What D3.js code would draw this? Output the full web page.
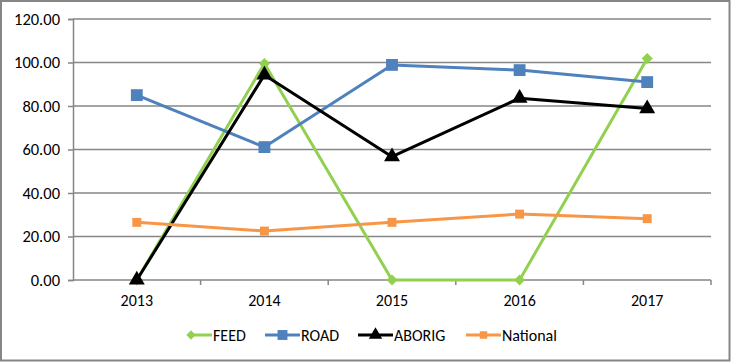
<!DOCTYPE html>
<html>
<head>
<meta charset="utf-8">
<script src="https://cdn.jsdelivr.net/npm/d3@7"></script>
<style>
  body { margin: 0; background: #fff; }
  text { font-family: Carlito, Calibri, sans-serif; fill: #000; }
</style>
</head>
<body>
<div id="chart"></div>
<script>
var svgWidth = 731;
var svgHeight = 362;

var margin = { top: 19, right: 20, bottom: 82, left: 73 };
var width = svgWidth - margin.left - margin.right;
var height = svgHeight - margin.top - margin.bottom;

// data
var years = ["2013", "2014", "2015", "2016", "2017"];
var feed = [0, 99.5, 0, 0, 101.8];
var road = [85.0, 61.1, 98.9, 96.5, 91.0];
var aborig = [0, 94.3, 56.7, 83.6, 78.8];
var national = [26.5, 22.5, 26.5, 30.3, 28.2];
var yTicks = [0, 20, 40, 60, 80, 100, 120];

var diamond = {
  draw: function(ctx, size) {
    var r = Math.sqrt(size) / 2 * 1.2;
    ctx.moveTo(0, -r); ctx.lineTo(r, 0); ctx.lineTo(0, r); ctx.lineTo(-r, 0); ctx.closePath();
  }
};

var series = [
  { name: "FEED", values: feed, color: "#92D050", shape: diamond, size: 85 },
  { name: "ROAD", values: road, color: "#4F81BD", shape: d3.symbolSquare, size: 140 },
  { name: "ABORIG", values: aborig, color: "#000000", shape: d3.symbolTriangle, size: 110 },
  { name: "National", values: national, color: "#F79646", shape: d3.symbolSquare, size: 80 }
];

var svg = d3.select("#chart")
  .append("svg")
  .attr("width", svgWidth)
  .attr("height", svgHeight);

// outer frame
svg.append("rect")
  .attr("x", 1).attr("y", 1)
  .attr("width", svgWidth - 2.5).attr("height", svgHeight - 2.5)
  .attr("fill", "#fff")
  .attr("stroke", "#868686")
  .attr("stroke-width", 2);

var chartGroup = svg.append("g")
  .attr("transform", `translate(${margin.left}, ${margin.top})`);

var xBand = d3.scaleBand()
  .domain(years)
  .range([0, width]);

var yScale = d3.scaleLinear()
  .domain([0, 120])
  .range([height, 0]);

// gridlines
chartGroup.append("g")
  .selectAll("line")
  .data(yTicks.slice(1))
  .enter()
  .append("line")
  .attr("x1", 0).attr("x2", width)
  .attr("y1", d => yScale(d))
  .attr("y2", d => yScale(d))
  .attr("stroke", "#868686")
  .attr("stroke-width", 1.5);

// y axis
var leftAxis = d3.axisLeft(yScale)
  .tickValues(yTicks)
  .tickFormat(d3.format(".2f"))
  .tickSize(5)
  .tickPadding(8);

var yAxis = chartGroup.append("g").call(leftAxis);
yAxis.select(".domain").attr("stroke", "#868686").attr("stroke-width", 1.5);
yAxis.selectAll(".tick line").attr("stroke", "#868686").attr("stroke-width", 1.5);
yAxis.selectAll("text").style("font-size", "16.5px").attr("fill", "#000")
  .style("font-family", "Carlito, Calibri, sans-serif");

// x axis: ticks between categories
var bottomAxis = d3.axisBottom(xBand).tickSize(0).tickPadding(15);
var xAxis = chartGroup.append("g")
  .attr("transform", `translate(0, ${height})`)
  .call(bottomAxis);
xAxis.select(".domain").remove();
xAxis.selectAll("text").style("font-size", "16px").attr("fill", "#000")
  .attr("dy", "0.68em")
  .style("font-family", "Carlito, Calibri, sans-serif");

chartGroup.append("line")
  .attr("x1", 0).attr("x2", width)
  .attr("y1", height).attr("y2", height)
  .attr("stroke", "#868686").attr("stroke-width", 1.5);

chartGroup.append("g")
  .selectAll("line")
  .data(years.slice(1).concat(["end"]))
  .enter()
  .append("line")
  .attr("x1", (d, i) => xBand.step() * (i + 1))
  .attr("x2", (d, i) => xBand.step() * (i + 1))
  .attr("y1", height).attr("y2", height + 5)
  .attr("stroke", "#868686").attr("stroke-width", 1.5);

var xPos = i => xBand(years[i]) + xBand.bandwidth() / 2;

var line = d3.line()
  .x((d, i) => xPos(i))
  .y(d => yScale(d));

series.forEach(function(s) {
  var g = chartGroup.append("g");
  g.append("path")
    .attr("d", line(s.values))
    .attr("fill", "none")
    .attr("stroke", s.color)
    .attr("stroke-width", 3)
    .attr("stroke-linejoin", "round");
  g.selectAll("path.marker")
    .data(s.values)
    .enter()
    .append("path")
    .classed("marker", true)
    .attr("d", d3.symbol().type(s.shape).size(s.size))
    .attr("transform", (d, i) => `translate(${xPos(i)}, ${yScale(d)})`)
    .attr("fill", s.color);
});

// legend
var legendX = [190, 265, 358, 466];
var legendLen = [22, 35, 35, 35];
var markerAt = [1, 17.5, 17.5, 17.5];
var legend = svg.append("g").attr("transform", "translate(0, 335)");
series.forEach(function(s, i) {
  var lg = legend.append("g").attr("transform", `translate(${legendX[i]}, 0)`);
  var len = legendLen[i];
  lg.append("line")
    .attr("x1", 0).attr("x2", len)
    .attr("y1", 0).attr("y2", 0)
    .attr("stroke", s.color).attr("stroke-width", 3);
  lg.append("path")
    .attr("d", d3.symbol().type(s.shape).size(s.size * 0.7))
    .attr("transform", `translate(${markerAt[i]}, 0)`)
    .attr("fill", s.color);
  lg.append("text")
    .attr("x", len + 1)
    .attr("y", 5.5)
    .style("font-size", "16px")
    .text(s.name);
});
</script>
</body>
</html>
